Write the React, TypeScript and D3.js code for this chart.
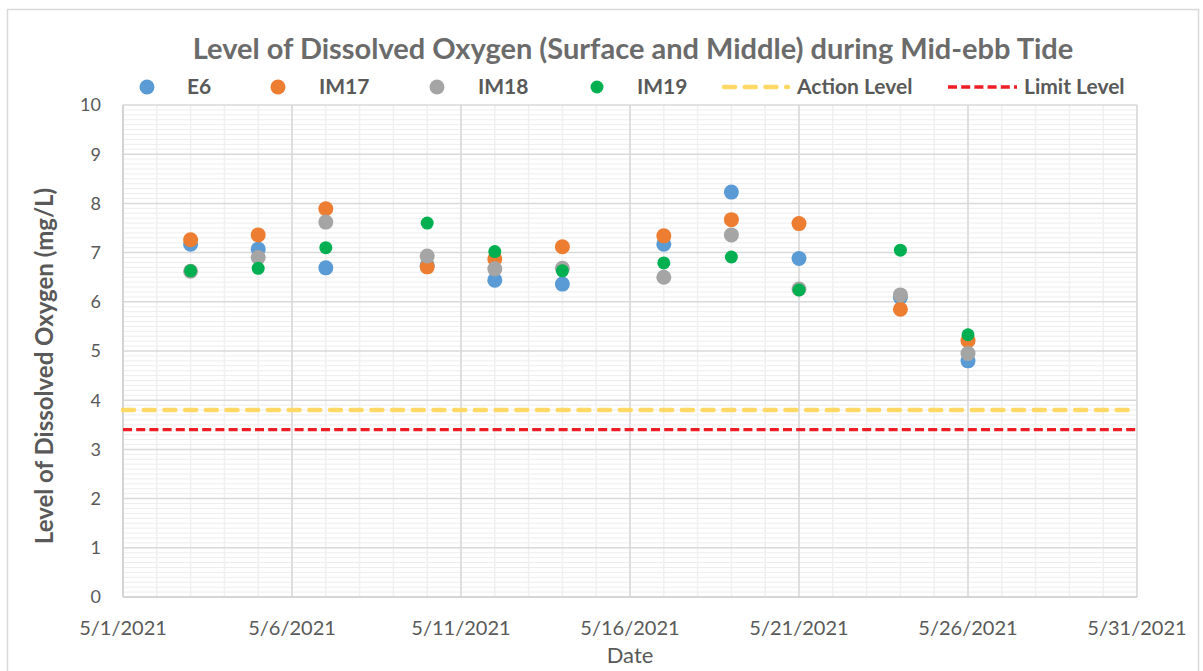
import React from 'react';
import * as d3 from 'd3';

const dates = ['2021-05-03', '2021-05-05', '2021-05-07', '2021-05-10', '2021-05-12', '2021-05-14', '2021-05-17', '2021-05-19', '2021-05-21', '2021-05-24', '2021-05-26'];
const e6 = [7.17, 7.07, 6.69, 6.74, 6.44, 6.36, 7.17, 8.23, 6.88, 6.09, 4.8];
const im17 = [7.26, 7.36, 7.89, 6.71, 6.87, 7.12, 7.34, 7.67, 7.59, 5.85, 5.21];
const im18 = [6.62, 6.9, 7.62, 6.93, 6.67, 6.68, 6.5, 7.36, 6.26, 6.14, 4.95];
const im19 = [6.63, 6.68, 7.1, 7.6, 7.02, 6.63, 6.79, 6.91, 6.24, 7.05, 5.33];
const actionLevel = 3.8;
const limitLevel = 3.4;
const xDomain = ['2021-05-01', '2021-05-31'];
const yTicks = [0, 1, 2, 3, 4, 5, 6, 7, 8, 9, 10];

const series = [
  { name: 'E6', values: e6, color: '#5B9BD5', r: 7.5 },
  { name: 'IM17', values: im17, color: '#ED7D31', r: 7.5 },
  { name: 'IM18', values: im18, color: '#A5A5A5', r: 7.5 },
  { name: 'IM19', values: im19, color: '#00B050', r: 6.5 },
];

const W = 1203, H = 671;
const m = { left: 123, right: 1137, top: 105, bottom: 597 };
const font = 'Lato, "Open Sans", sans-serif';
const textColor = '#595959';

export default function App() {
  const parse = d3.utcParse('%Y-%m-%d');
  const x = d3.scaleUtc().domain(xDomain.map(d => parse(d) as Date)).range([m.left, m.right]);
  const y = d3.scaleLinear().domain([0, 10]).range([m.bottom, m.top]);
  const fmt = d3.utcFormat('%-m/%-d/%Y');

  const days = d3.utcDay.range(x.domain()[0], d3.utcDay.offset(x.domain()[1], 1));
  const majorDays = days.filter((_, i) => i % 5 === 0);
  const minorY = d3.range(0, 100).map(i => i / 10).filter(v => v % 1 !== 0);

  const legend = [
    { color: '#5B9BD5', r: 7.5, cx: 147, tx: 187, label: 'E6' },
    { color: '#ED7D31', r: 7.5, cx: 278, tx: 319, label: 'IM17' },
    { color: '#A5A5A5', r: 7.5, cx: 437, tx: 478, label: 'IM18' },
    { color: '#00B050', r: 6.5, cx: 597, tx: 637, label: 'IM19' },
  ];
  const ly = 87;

  return (
    <svg width={W} height={H} style={{ position: 'absolute', left: 0, top: 0, background: '#fff' }} fontFamily={font}>
      <rect x={7.5} y={9.5} width={1191} height={680} fill="#fff" stroke="#D9D9D9" strokeWidth={1.5} />

      {/* grid */}
      <g>
        {minorY.map(v => (
          <line key={'my' + v} x1={m.left} x2={m.right} y1={y(v)} y2={y(v)} stroke="#EDEDED" strokeWidth={1} />
        ))}
        {days.map((d, i) => (
          <line key={'mx' + i} x1={x(d)} x2={x(d)} y1={m.top} y2={m.bottom} stroke="#F0F0F0" strokeWidth={1.5} />
        ))}
        {yTicks.map(v => (
          <line key={'gy' + v} x1={m.left} x2={m.right} y1={y(v)} y2={y(v)} stroke="#D9D9D9" strokeWidth={1.5} />
        ))}
        {majorDays.map((d, i) => (
          <line key={'gx' + i} x1={x(d)} x2={x(d)} y1={m.top} y2={m.bottom} stroke="#D9D9D9" strokeWidth={1.5} />
        ))}
        <line x1={m.left} x2={m.left} y1={m.top} y2={m.bottom} stroke="#D0D0D0" strokeWidth={1.5} />
        <line x1={m.left} x2={m.right} y1={m.bottom} y2={m.bottom} stroke="#D0D0D0" strokeWidth={1.5} />
      </g>

      {/* y ticks */}
      {yTicks.map(v => (
        <text key={'yt' + v} x={101} y={y(v)} dy="0.35em" textAnchor="end" fontSize={18} fill={textColor}>{v}</text>
      ))}
      {/* x ticks */}
      {majorDays.map((d, i) => (
        <text key={'xt' + i} x={x(d)} y={635} textAnchor="middle" fontSize={20} fill={textColor}>{fmt(d)}</text>
      ))}

      {/* threshold lines */}
      <line x1={m.left} x2={1131} y1={y(actionLevel)} y2={y(actionLevel)} stroke="#FFD966" strokeWidth={4.5} strokeDasharray="11 9.7" strokeLinecap="round" />
      <line x1={m.left} x2={m.right} y1={y(limitLevel)} y2={y(limitLevel)} stroke="#EE1C25" strokeWidth={3.3} strokeDasharray="9 4.2" />

      {/* points */}
      {series.map(s => (
        <g key={s.name}>
          {s.values.map((v, i) => (
            <circle key={i} cx={x(parse(dates[i]) as Date)} cy={y(v)} r={s.r} fill={s.color} />
          ))}
        </g>
      ))}

      {/* title */}
      <text x={(193 + 1073) / 2} y={59} textAnchor="middle" fontSize={29} fontWeight="bold" fill="#6b6b6b">
        Level of Dissolved Oxygen (Surface and Middle) during Mid-ebb Tide
      </text>

      {/* legend */}
      {legend.map(l => (
        <g key={l.label}>
          <circle cx={l.cx} cy={ly} r={l.r} fill={l.color} />
          <text x={l.tx} y={ly} dy="0.35em" fontSize={21} fontWeight="bold" fill={textColor}>{l.label}</text>
        </g>
      ))}
      <line x1={724} x2={788} y1={ly} y2={ly} stroke="#FFD966" strokeWidth={4.5} strokeDasharray="11 9.7" strokeLinecap="round" />
      <text x={797} y={ly} dy="0.35em" fontSize={21} fontWeight="bold" fill={textColor}>Action Level</text>
      <line x1={948} x2={1017} y1={ly} y2={ly} stroke="#EE1C25" strokeWidth={3.3} strokeDasharray="9 4.2" />
      <text x={1024} y={ly} dy="0.35em" fontSize={21} fontWeight="bold" fill={textColor}>Limit Level</text>

      {/* axis titles */}
      <text x={630} y={663} textAnchor="middle" fontSize={22} fill={textColor}>Date</text>
      <text transform={`translate(53, ${366}) rotate(-90)`} textAnchor="middle" fontSize={24} fontWeight="bold" fill={textColor}>
        Level of Dissolved Oxygen (mg/L)
      </text>
    </svg>
  );
}
